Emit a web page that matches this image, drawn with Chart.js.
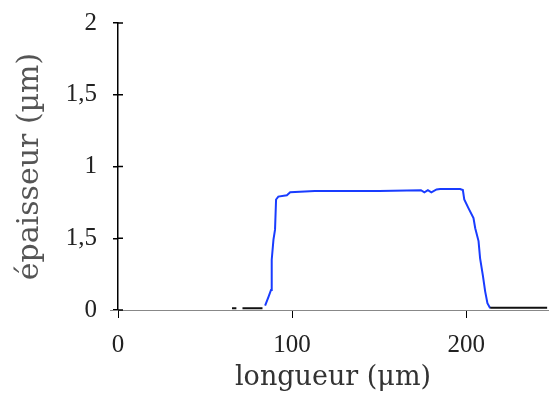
<!DOCTYPE html>
<html lang="fr">
<head>
<meta charset="UTF-8">
<title>épaisseur / longueur</title>
<script src="https://cdn.jsdelivr.net/npm/chart.js"></script>
<style>
  * { margin: 0; padding: 0; box-sizing: border-box; }
  body { background: #fff; }
  #wrap { width: 550px; height: 396px; }
</style>
</head>
<body>
<div id="wrap"><canvas id="profil" width="550" height="396"></canvas></div>
<script>
// profil mesuré (bleu) : longueur en µm, épaisseur en µm
const blueX = [84.5, 86.4, 87.9, 88.3, 89.3, 90.2, 90.8, 92.1, 97, 98.9, 113, 150, 174, 176, 178, 180, 183, 185, 196.5, 198.1, 198.9, 201.3, 204.2, 205.2, 207.1, 208, 209.6, 210.9, 212.2, 213.8];
const blueY = [0.03, 0.09, 0.14, 0.35, 0.49, 0.56, 0.77, 0.79, 0.80, 0.82, 0.83, 0.83, 0.835, 0.82, 0.835, 0.82, 0.84, 0.843, 0.843, 0.836, 0.77, 0.71, 0.64, 0.57, 0.48, 0.36, 0.24, 0.13, 0.047, 0.012];

// ligne de base (noir), null = coupure
const blackX = [65.5, 68, 69, 71.5, 83, 84, 213.8, 246.5];
const blackY = [0.012, 0.012, null, 0.012, 0.012, null, 0.015, 0.015];

// graduations
const yTickLabels = ['0', '1,5', '1', '1,5', '2'];
const xTickValues = [0, 100, 200];

const toPoints = (xs, ys) => xs.map((x, i) => ({ x: x, y: ys[i] }));

// petites graduations croisées sur l'axe vertical + axe horizontal prolongé à gauche
const crossTicks = {
  id: 'crossTicks',
  afterDraw(chart) {
    const { ctx, chartArea, scales } = chart;
    const ys = scales.y;
    ctx.save();
    ctx.strokeStyle = '#000';
    ctx.lineWidth = 1.5;
    ys.ticks.forEach(t => {
      const py = ys.getPixelForValue(t.value);
      ctx.beginPath();
      ctx.moveTo(chartArea.left, py);
      ctx.lineTo(chartArea.left + 5, py);
      ctx.stroke();
    });
    ctx.strokeStyle = '#888';
    ctx.lineWidth = 1;
    const y0 = ys.getPixelForValue(0);
    ctx.beginPath();
    ctx.moveTo(chartArea.left - 8, y0 + 0.5);
    ctx.lineTo(chartArea.left, y0 + 0.5);
    ctx.stroke();
    ctx.restore();
  }
};

new Chart(document.getElementById('profil'), {
  type: 'scatter',
  data: {
    datasets: [
      {
        data: toPoints(blackX, blackY),
        showLine: true,
        spanGaps: false,
        borderColor: '#111',
        borderWidth: 2,
        pointRadius: 0
      },
      {
        data: toPoints(blueX, blueY),
        showLine: true,
        borderColor: 'rgb(25, 60, 255)',
        borderWidth: 2,
        pointRadius: 0
      }
    ]
  },
  options: {
    responsive: false,
    animation: false,
    layout: { padding: { top: 23, right: 2, left: 0, bottom: 0 } },
    plugins: {
      legend: { display: false },
      tooltip: { enabled: false }
    },
    scales: {
      x: {
        type: 'linear',
        min: 0,
        max: 247,
        afterFit: s => { s.height = 86; },
        afterBuildTicks: s => { s.ticks = xTickValues.map(v => ({ value: v })); },
        ticks: {
          color: '#222',
          padding: 12,
          maxRotation: 0,
          font: { family: 'Liberation Serif', size: 25 }
        },
        grid: { drawOnChartArea: false, color: '#000', tickLength: 8, lineWidth: 1 },
        border: { color: '#888', width: 1 },
        title: {
          display: true,
          text: 'longueur (μm)',
          color: '#333',
          padding: { top: 0, bottom: 2 },
          font: { family: 'DejaVu Serif', size: 27 }
        }
      },
      y: {
        min: 0,
        max: 2,
        afterFit: s => { s.width = 118; s.paddingTop = 0; s.paddingBottom = 0; },
        ticks: {
          stepSize: 0.5,
          color: '#222',
          padding: 16,
          font: { family: 'Liberation Serif', size: 25 },
          callback: (v, i) => yTickLabels[i]
        },
        grid: { drawOnChartArea: false, color: '#000', tickLength: 5, lineWidth: 1.5 },
        border: { color: '#000', width: 1.5 },
        title: {
          display: true,
          text: 'épaisseur (µm)',
          color: '#555',
          padding: { top: 12, bottom: 0 },
          font: { family: 'DejaVu Serif', size: 30 }
        }
      }
    }
  },
  plugins: [crossTicks]
});
</script>
</body>
</html>
